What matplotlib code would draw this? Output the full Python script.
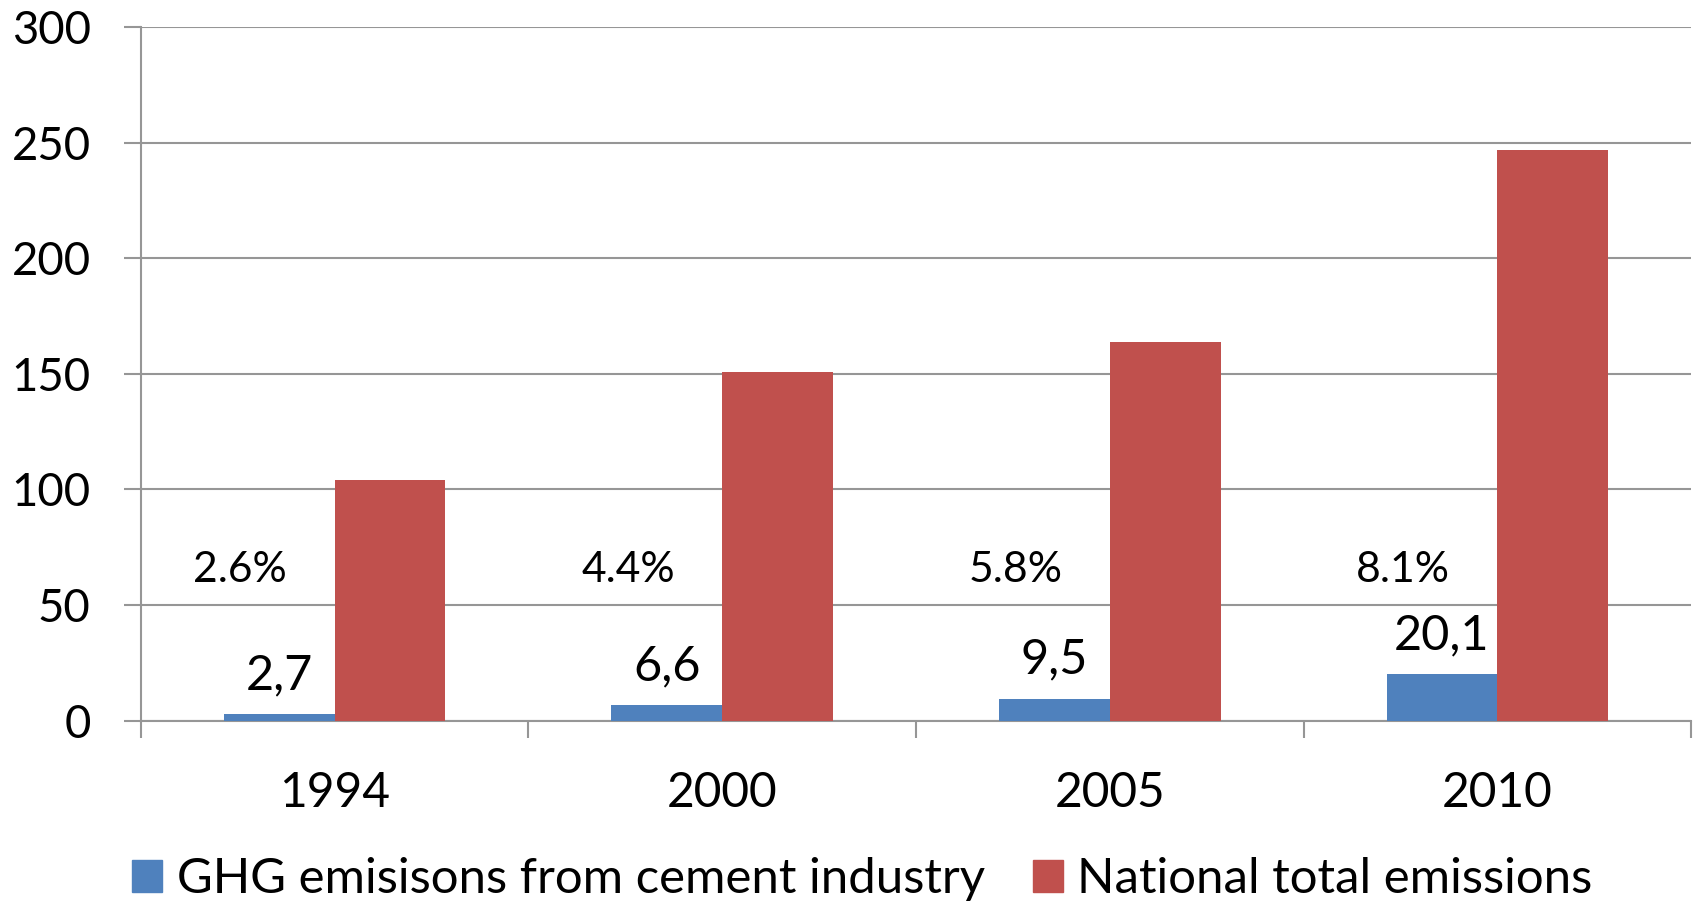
import numpy as np
import matplotlib
matplotlib.use("Agg")
import matplotlib.pyplot as plt
from matplotlib.patches import Patch

years = ["1994", "2000", "2005", "2010"]
cement = [2.7, 6.6, 9.5, 20.1]
national = [104, 151, 164, 247]
cement_labels = ["2,7", "6,6", "9,5", "20,1"]
pct_labels = ["2.6%", "4.4%", "5.8%", "8.1%"]
series_names = ["GHG emisisons from cement industry", "National total emissions"]

blue = "#4F81BD"
red = "#C0504D"
grid_c = "#969696"

plt.rcParams["font.family"] = ["Lato", "DejaVu Sans"]

fig = plt.figure(figsize=(16.96, 9.01), dpi=100)
ax = fig.add_axes([0.08296, 0.20033, 0.91427, 0.76926])

x = np.arange(len(years))
w = 0.286
ax.bar(x - w / 2, cement, w, color=blue, zorder=3)
ax.bar(x + w / 2, national, w, color=red, zorder=3)

# value labels above blue bars
for i, v in enumerate(cement):
    ax.annotate(cement_labels[i], (x[i] - w / 2, v), xytext=(0, 18), textcoords="offset points",
                ha="center", va="baseline", fontsize=35, color="black")

# share labels
for i in range(len(years)):
    ax.text(x[i] - w / 2 - 0.1, 60, pct_labels[i], ha="center", va="baseline",
            fontsize=30.7, color="black")

ax.set_xlim(-0.5, 3.5)
ax.set_ylim(0, 300)
ax.set_yticks(np.arange(0, 301, 50))
ax.set_xticks(x)
ax.set_xticklabels(years)
ax.set_xticks(np.arange(-0.5, 3.6, 1), minor=True)

ax.grid(True, axis="y", color=grid_c, lw=1.5, zorder=0)
ax.spines["top"].set_visible(False)
ax.spines["right"].set_visible(False)
for s in ["left", "bottom"]:
    ax.spines[s].set_color(grid_c)
    ax.spines[s].set_linewidth(1.5)

ax.tick_params(axis="y", which="major", length=12, width=1.5, color=grid_c,
               labelsize=32.8, pad=24, direction="out")
ax.tick_params(axis="x", which="major", length=0, labelsize=34.5, pad=36)
ax.tick_params(axis="x", which="minor", length=12, width=1.5, color=grid_c, direction="out")

handles = [Patch(color=blue), Patch(color=red)]
fig.legend(handles, series_names, ncol=2, loc="center", bbox_to_anchor=(0.5085, 0.024),
           frameon=False, fontsize=35.4, handlelength=0.61, handleheight=0.61,
           handletextpad=0.3, columnspacing=0.97, borderpad=0, borderaxespad=0)

fig.savefig("out.png", dpi=100)
